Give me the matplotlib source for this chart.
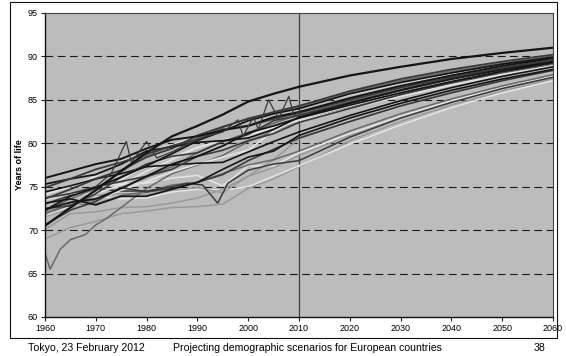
import matplotlib
matplotlib.use("Agg")
import matplotlib.pyplot as plt
from matplotlib.patches import Rectangle

plt.rcParams['font.family'] = ['Liberation Sans', 'DejaVu Sans']

# female life expectancy at birth, observed and projected
hist_years = [1960, 1965, 1970, 1975, 1980, 1985, 1990, 1995, 2000, 2005, 2010]
proj_years = [2010, 2020, 2030, 2040, 2050, 2060]

japan_hist = [70.5, 72.6, 74.6, 76.8, 78.9, 80.8, 82.0, 83.3, 84.8, 85.7, 86.5]
japan_proj = [87.8, 88.8, 89.7, 90.4, 91.0]
norway_hist = [76.0, 76.8, 77.6, 78.2, 79.4, 80.4, 80.8, 81.5, 82.0, 83.0, 83.6]
norway_proj = [85.2, 86.6, 87.8, 88.9, 89.8]
sweden_hist = [74.9, 75.9, 77.0, 77.8, 78.8, 79.7, 80.4, 81.6, 82.0, 82.8, 83.5]
sweden_proj = [85.0, 86.4, 87.6, 88.7, 89.6]
netherlands_hist = [75.3, 75.9, 76.4, 77.6, 79.1, 79.6, 80.1, 80.3, 80.6, 81.6, 83.0]
netherlands_proj = [84.6, 86.1, 87.4, 88.5, 89.4]
france_hist = [73.6, 74.7, 75.9, 76.9, 78.4, 79.4, 80.9, 81.9, 82.8, 83.6, 84.3]
france_proj = [86.0, 87.4, 88.5, 89.4, 90.2]
spain_hist = [72.2, 73.6, 74.8, 76.7, 78.6, 79.7, 80.6, 81.8, 82.9, 83.5, 84.2]
spain_proj = [85.9, 87.2, 88.3, 89.2, 90.0]
italy_hist = [72.3, 73.9, 74.9, 76.1, 77.4, 78.8, 80.3, 81.4, 82.6, 83.4, 84.0]
italy_proj = [85.7, 87.0, 88.1, 89.1, 89.9]
switzerland_hist = [74.1, 75.0, 76.2, 77.9, 79.0, 79.8, 80.8, 81.7, 82.6, 83.6, 84.1]
switzerland_proj = [85.6, 86.9, 88.0, 89.0, 89.8]
uk_hist = [73.7, 74.2, 75.0, 75.6, 76.2, 77.0, 78.5, 79.2, 80.3, 81.1, 82.4]
uk_proj = [84.0, 85.6, 87.0, 88.2, 89.2]
germany_hist = [72.4, 73.2, 73.6, 74.8, 76.2, 77.6, 78.5, 79.7, 81.2, 82.0, 82.9]
germany_proj = [84.4, 85.8, 87.1, 88.3, 89.3]
belgium_hist = [73.5, 74.2, 74.2, 75.2, 76.8, 78.1, 79.5, 80.4, 80.9, 81.9, 82.8]
belgium_proj = [84.3, 85.8, 87.1, 88.3, 89.3]
austria_hist = [71.9, 72.9, 73.5, 74.8, 76.1, 77.3, 78.9, 80.2, 81.2, 82.3, 83.3]
austria_proj = [84.8, 86.2, 87.5, 88.6, 89.5]
finland_hist = [72.5, 72.8, 74.2, 76.1, 77.6, 78.5, 78.9, 80.2, 81.0, 82.6, 83.2]
finland_proj = [84.7, 86.1, 87.4, 88.5, 89.4]
ireland_hist = [71.9, 72.8, 73.5, 74.6, 75.6, 76.7, 77.6, 78.4, 79.2, 81.4, 82.8]
ireland_proj = [84.4, 85.8, 87.1, 88.3, 89.2]
greece_hist = [72.4, 73.6, 75.0, 75.8, 77.5, 78.4, 79.5, 80.3, 80.6, 81.8, 82.6]
greece_proj = [84.0, 85.4, 86.7, 87.9, 88.9]
denmark_hist = [74.4, 75.1, 75.9, 76.5, 77.3, 77.5, 77.7, 77.8, 79.0, 80.2, 81.3]
denmark_proj = [83.2, 84.9, 86.4, 87.7, 88.8]
czech_hist = [73.1, 73.6, 72.9, 73.9, 73.9, 74.7, 75.5, 77.0, 78.4, 79.1, 80.9]
czech_proj = [82.9, 84.6, 86.1, 87.4, 88.5]
hungary_hist = [70.1, 71.9, 72.1, 72.6, 72.7, 73.1, 73.7, 74.7, 76.2, 77.2, 78.6]
hungary_proj = [80.9, 83.0, 84.8, 86.3, 87.6]
poland_hist = [70.6, 72.3, 73.3, 74.9, 74.4, 74.8, 75.5, 76.4, 78.0, 79.3, 80.6]
poland_proj = [82.5, 84.3, 85.8, 87.2, 88.4]
bulgaria_hist = [71.4, 72.8, 73.9, 73.6, 73.7, 74.4, 74.7, 74.6, 75.0, 76.2, 77.4]
bulgaria_proj = [79.9, 82.1, 84.1, 85.8, 87.2]
romania_hist = [69.0, 70.3, 71.0, 71.9, 72.2, 72.6, 72.7, 73.0, 74.8, 75.9, 77.3]
romania_proj = [80.3, 82.5, 84.4, 86.0, 87.4]
slovakia_hist = [72.0, 73.0, 73.0, 74.0, 74.4, 75.2, 75.5, 76.5, 77.5, 78.1, 79.1]
slovakia_proj = [81.4, 83.4, 85.1, 86.6, 87.9]
estonia_hist = [71.5, 72.5, 74.0, 74.2, 74.1, 74.6, 74.9, 74.3, 76.2, 78.1, 80.5]
estonia_proj = [82.5, 84.3, 85.9, 87.3, 88.4]
lithuania_hist = [71.4, 73.6, 75.0, 75.3, 75.4, 76.0, 76.3, 75.1, 77.4, 77.4, 78.9]
lithuania_proj = [81.1, 83.1, 84.9, 86.4, 87.7]

portugal_years = [1960, 1961, 1963, 1965, 1968, 1970, 1972, 1975, 1977,
                  1980, 1985, 1990, 1995, 2000, 2005, 2010]
portugal_hist = [67.4, 65.5, 67.8, 68.9, 69.5, 70.6, 71.3, 72.6, 73.5,
                 74.8, 76.5, 77.5, 78.6, 80.2, 81.4, 82.6]
portugal_proj = [84.1, 85.6, 86.9, 88.1, 89.1]

latvia_years = [1960, 1965, 1970, 1975, 1980, 1985, 1988, 1991, 1994, 1996,
                2000, 2005, 2010]
latvia_hist = [73.0, 74.0, 74.8, 74.5, 74.5, 75.0, 75.4, 75.2, 73.1, 75.4,
               76.9, 77.6, 78.0]
latvia_proj = [80.7, 82.9, 84.7, 86.3, 87.6]

liecht_years = [1970, 1973, 1976, 1977, 1980, 1982, 1985, 1990, 1995, 1998,
                1999, 2001, 2002, 2004, 2006, 2008, 2009, 2010]
liecht_hist = [75.0, 76.5, 80.2, 77.8, 80.2, 78.3, 79.0, 80.5, 81.3, 82.7,
               80.8, 83.0, 81.6, 85.0, 82.8, 85.4, 83.2, 83.6]

BLACK, DARK, MID, LIGHT, PALE = '#151515', '#3a3a3a', '#6a6a6a', '#9a9a9a', '#e4e4e4'

series = [
    (hist_years, romania_hist, romania_proj, LIGHT, 1.1),
    (hist_years, bulgaria_hist, bulgaria_proj, PALE, 1.1),
    (hist_years, hungary_hist, hungary_proj, LIGHT, 1.1),
    (hist_years, lithuania_hist, lithuania_proj, PALE, 1.1),
    (hist_years, estonia_hist, estonia_proj, LIGHT, 1.1),
    (hist_years, slovakia_hist, slovakia_proj, MID, 1.1),
    (portugal_years, portugal_hist, portugal_proj, MID, 1.1),
    (latvia_years, latvia_hist, latvia_proj, DARK, 1.1),
    (hist_years, greece_hist, greece_proj, PALE, 1.2),
    (hist_years, ireland_hist, ireland_proj, PALE, 1.2),
    (hist_years, belgium_hist, belgium_proj, PALE, 1.2),
    (hist_years, switzerland_hist, switzerland_proj, PALE, 1.2),
    (hist_years, austria_hist, austria_proj, MID, 1.2),
    (hist_years, spain_hist, spain_proj, MID, 1.2),
    (hist_years, poland_hist, poland_proj, DARK, 1.2),
    (hist_years, czech_hist, czech_proj, BLACK, 1.2),
    (hist_years, denmark_hist, denmark_proj, BLACK, 1.2),
    (hist_years, uk_hist, uk_proj, DARK, 1.2),
    (hist_years, finland_hist, finland_proj, DARK, 1.2),
    (hist_years, germany_hist, germany_proj, BLACK, 1.3),
    (hist_years, italy_hist, italy_proj, BLACK, 1.3),
    (hist_years, france_hist, france_proj, DARK, 1.3),
    (hist_years, netherlands_hist, netherlands_proj, BLACK, 1.3),
    (hist_years, sweden_hist, sweden_proj, DARK, 1.3),
    (hist_years, norway_hist, norway_proj, BLACK, 1.4),
    (hist_years, japan_hist, japan_proj, BLACK, 1.6),
]

fig = plt.figure(figsize=(5.66, 3.56), dpi=100)
fig.patch.set_facecolor('white')
ax = fig.add_axes([0.0795, 0.1096, 0.8975, 0.854])
ax.set_facecolor('#bcbcbc')

for yv in [65, 70, 75, 80, 85, 90]:
    ax.axhline(yv, color='#1a1a1a', lw=0.8, dashes=(7, 4), zorder=1)
ax.axvline(2010, color='#404040', lw=0.9, zorder=1)

for yrs, hist, proj, col, lw in series:
    ax.plot(yrs, hist, color=col, lw=lw, zorder=2, solid_joinstyle='miter')
    ax.plot(proj_years, [hist[-1]] + proj, color=col, lw=lw, zorder=2)
ax.plot(liecht_years, liecht_hist, color=DARK, lw=0.9, zorder=2)

ax.set_xlim(1960, 2060)
ax.set_ylim(60, 95)
ax.set_xticks(range(1960, 2061, 10))
ax.set_yticks(range(60, 96, 5))
ax.tick_params(labelsize=6.5, length=3, width=0.8, color='#222222', pad=2)
for s in ['left', 'bottom']:
    ax.spines[s].set_color('#111111')
    ax.spines[s].set_linewidth(1.0)
for s in ['top', 'right']:
    ax.spines[s].set_color('#444444')
    ax.spines[s].set_linewidth(0.8)
ax.set_ylabel('Years of life', fontsize=6.5, fontweight='bold', labelpad=3)

# chart frame and slide footer
fig.patches.append(Rectangle((10 / 566, 1 - 338 / 356), 547 / 566, 336 / 356,
                             transform=fig.transFigure, fill=False,
                             ec='#111111', lw=0.8))
fig.text(28 / 566, 1 - 348 / 356, 'Tokyo, 23 February 2012', fontsize=7.6,
         va='center', ha='left')
fig.text(173 / 566, 1 - 348 / 356,
         'Projecting demographic scenarios for European countries',
         fontsize=7.6, va='center', ha='left')
fig.text(545 / 566, 1 - 348 / 356, '38', fontsize=7.6, va='center', ha='right')

fig.savefig('out.png', dpi=100)
